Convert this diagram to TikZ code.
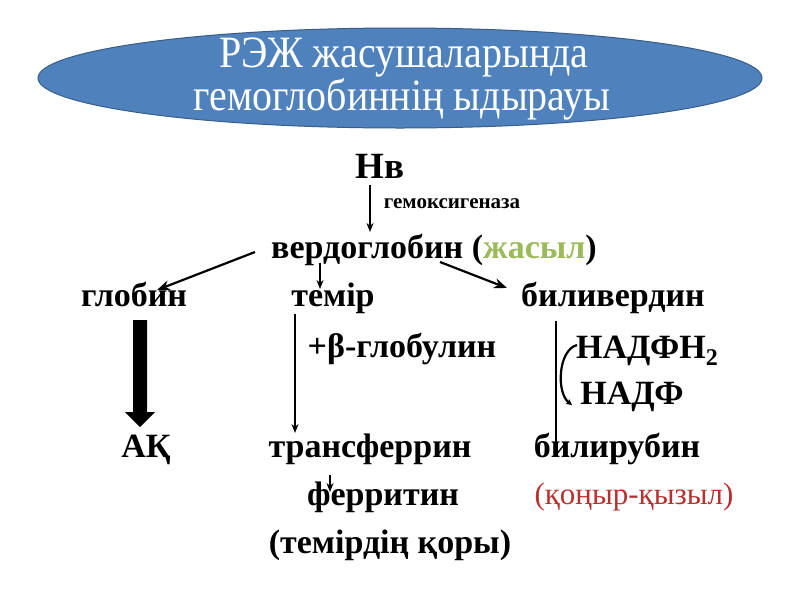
\documentclass[tikz,border=0pt]{standalone}
\usepackage{fontspec}
\setmainfont{Liberation Serif}
\usetikzlibrary{arrows.meta,shapes.geometric,calc}
\definecolor{ellfill}{HTML}{4F81BD}
\definecolor{elldraw}{HTML}{385D8A}
\definecolor{grn}{HTML}{9BBB59}
\definecolor{rd}{HTML}{B8312F}
\begin{document}
\begin{tikzpicture}[x=1pt,y=-1pt,
  txt/.style={font=\bfseries\fontsize{34}{36}\selectfont, inner sep=0pt, anchor=base},
  bigtxt/.style={font=\bfseries\fontsize{37}{39}\selectfont, inner sep=0pt, anchor=base},
  smalltxt/.style={font=\bfseries\fontsize{21}{23}\selectfont, inner sep=0pt, anchor=base},
  redtxt/.style={font=\fontsize{31}{33}\selectfont, text=rd, inner sep=0pt, anchor=base},
  titletxt/.style={font=\fontsize{40}{42}\selectfont, text=white, inner sep=0pt, anchor=base},
  thinarrow/.style={line width=1.6pt, -{Stealth[length=9pt,width=7pt]}},
  diagarrow/.style={line width=2.2pt, -{Stealth[length=13pt,width=10pt]}},
  plainline/.style={line width=1.8pt}]
\useasboundingbox (0,0) rectangle (800,600);
\fill[white] (0,0) rectangle (800,600);
% title ellipse
\node[ellipse, draw=elldraw, line width=1pt, fill=ellfill, minimum width=724pt, minimum height=100pt, inner sep=0pt] (ell) at (400,78) {};
\node[titletxt] (t1) at (404,67) {\scalebox{1}[1.12]{РЭЖ жасушаларында}};
\node[titletxt] (t2) at (402,110) {\scalebox{1}[1.12]{гемоглобиннің ыдырауы}};
% texts
\node[bigtxt] (hb) at (380,178) {Нв};
\node[smalltxt] (enz) at (452,208) {гемоксигеназа};
\node[txt] (verd) at (434,258) {вердоглобин (\textcolor{grn}{жасыл})};
\node[txt] (glob) at (134,306) {глобин};
\node[txt] (temir) at (333,306) {темір};
\node[txt] (biliv) at (613,306) {биливердин};
\node[txt] (beta) at (402,357) {+β-глобулин};
\node[txt] (nadfh) at (647,358) {НАДФН\raisebox{-7pt}{\fontsize{24}{24}\selectfont 2}};
\node[txt] (nadf) at (632,404) {НАДФ};
\node[txt] (ak) at (146,457) {АҚ};
\node[txt] (transf) at (370,457) {трансферрин};
\node[txt] (bilir) at (617,457) {билирубин};
\node[redtxt] (brown) at (634,504) {(қоңыр-қызыл)};
\node[txt] (ferr) at (383,505) {ферритин};
\node[txt] (store) at (390,553) {(темірдің қоры)};
% connectors
\draw[thinarrow] ($(hb.base)+(-10,7)$) -- ($(verd.base)+(-64,-26)$);
\draw[diagarrow] ($(verd.base)+(-179,-6)$) -- ($(glob.base)+(23,-16)$);
\draw[thinarrow] ($(verd.base)+(-114,5)$) -- ($(temir.base)+(-13,-17)$);
\draw[diagarrow] ($(verd.base)+(6,4)$) -- ($(biliv.base)+(-106,-18)$);
\path (glob.base) ++ (6,14) coordinate (ga);
\fill[shift={(ga)}] (-7,0) -- (7,0) -- (7,92) -- (15,92) -- (0,107) -- (-15,92) -- (-7,92) -- cycle;
\draw[thinarrow] ($(temir.base)+(-38,8)$) -- ($(transf.base)+(-75,-24)$);
\draw[thinarrow] ($(transf.base)+(-40,18)$) -- ($(ferr.base)+(-53,-13)$);
\draw[plainline] ($(biliv.base)+(-57,15)$) -- ($(bilir.base)+(-61,-12)$);
\draw[line width=2.2pt, -{Stealth[length=6pt,width=6pt]}] ($(nadfh.base)+(-70,-13)$) .. controls (558,350) and (556,393) .. ($(nadf.base)+(-60,1)$);
\end{tikzpicture}
\end{document}
